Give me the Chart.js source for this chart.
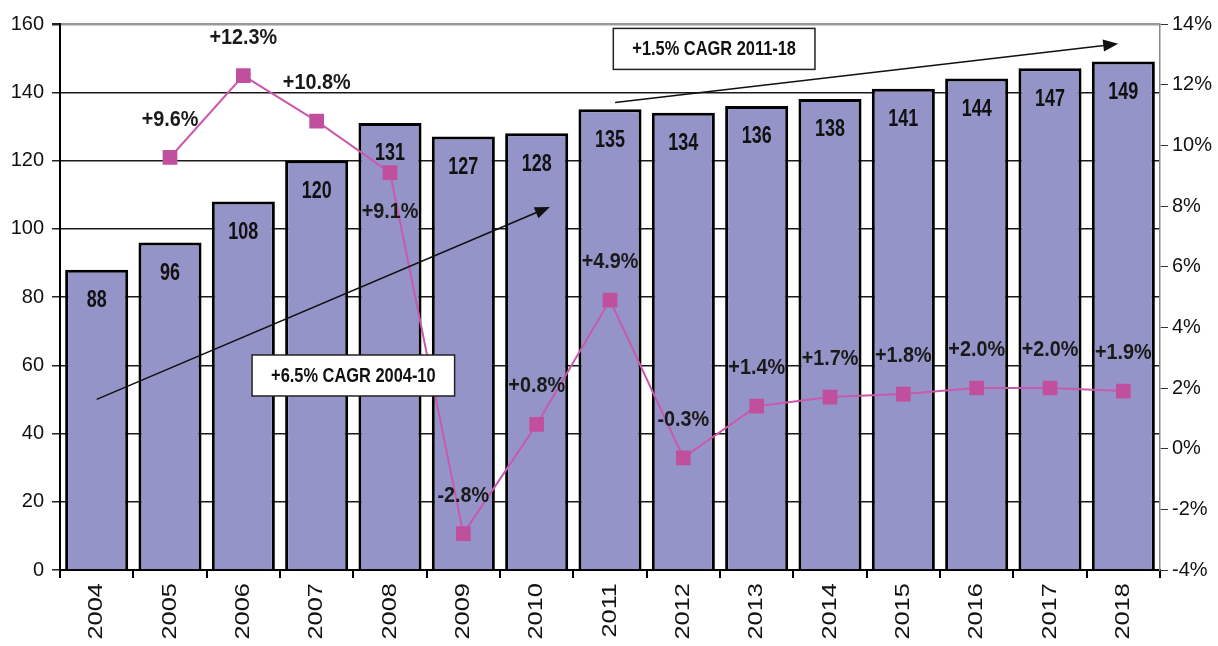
<!DOCTYPE html>
<html>
<head>
<meta charset="utf-8">
<script src="https://cdn.jsdelivr.net/npm/chart.js@4.4.1/dist/chart.umd.min.js"></script>
<style>
  html, body { margin: 0; padding: 0; background: #fff; }
  #wrap { width: 1218px; height: 646px; }
</style>
</head>
<body>
<div id="wrap"><canvas id="growthChart"></canvas></div>
<script>
// values
const years = ['2004','2005','2006','2007','2008','2009','2010','2011','2012','2013','2014','2015','2016','2017','2018'];
const volumes = [88, 96, 108, 120, 131, 127, 128, 135, 134, 136, 138, 141, 144, 147, 149];
const growth = [null, 9.6, 12.3, 10.8, 9.1, -2.8, 0.8, 4.9, -0.3, 1.4, 1.7, 1.8, 2.0, 2.0, 1.9];
const growthBelow = ['2008']; // label sits under the point for these years

// CAGR notes, placed in data units (category index, left-axis value)
const noteTexts = ['+6.5% CAGR 2004-10', '+1.5% CAGR 2011-18'];
const noteAt = [[3.5, 57], [8.42, 152.7]];
const arrowFrom = [[0, 50], [7.07, 137]];
const arrowTo = [[6.18, 106.4], [13.93, 154.2]];

const SANS = '"Liberation Sans", Arial, sans-serif';

const fmtPct = v => (v > 0 ? '+' : '') + v.toFixed(1) + '%';

// text squeezed or stretched along its own direction
function squeezed(ctx, text, x, y, sx) {
    ctx.save();
    ctx.translate(x, y);
    ctx.scale(sx, 1);
    ctx.fillText(text, 0, 0);
    ctx.restore();
}

const labelsPlugin = {
    id: 'labelsPlugin',
    afterDatasetsDraw(chart) {
        const ctx = chart.ctx;
        const xs = chart.scales.x, ys = chart.scales.y;
        ctx.save();

        // arrows
        ctx.strokeStyle = '#111'; ctx.fillStyle = '#111'; ctx.lineWidth = 1.6;
        arrowFrom.forEach((f, i) => {
            const x1 = xs.getPixelForValue(f[0]), y1 = ys.getPixelForValue(f[1]);
            const x2 = xs.getPixelForValue(arrowTo[i][0]), y2 = ys.getPixelForValue(arrowTo[i][1]);
            const a = Math.atan2(y2 - y1, x2 - x1);
            ctx.beginPath(); ctx.moveTo(x1, y1);
            ctx.lineTo(x2 - 12 * Math.cos(a), y2 - 12 * Math.sin(a)); ctx.stroke();
            ctx.beginPath();
            ctx.moveTo(x2, y2);
            ctx.lineTo(x2 - 15 * Math.cos(a) + 6 * Math.sin(a), y2 - 15 * Math.sin(a) - 6 * Math.cos(a));
            ctx.lineTo(x2 - 15 * Math.cos(a) - 6 * Math.sin(a), y2 - 15 * Math.sin(a) + 6 * Math.cos(a));
            ctx.closePath(); ctx.fill();
        });

        // bar values
        const barMeta = chart.getDatasetMeta(0);
        ctx.font = 'bold 23px ' + SANS;
        ctx.fillStyle = '#111'; ctx.textAlign = 'center'; ctx.textBaseline = 'middle';
        barMeta.data.forEach((bar, i) => {
            squeezed(ctx, String(volumes[i]), bar.x, bar.y + 31, 0.78);
        });

        // growth labels
        const lineMeta = chart.getDatasetMeta(1);
        ctx.font = 'bold 22px ' + SANS;
        ctx.fillStyle = '#1a1a1a';
        lineMeta.data.forEach((pt, i) => {
            if (growth[i] === null) return;
            const dy = growthBelow.includes(years[i]) ? 39 : -38;
            squeezed(ctx, fmtPct(growth[i]), pt.x, pt.y + dy, 0.9);
        });

        // CAGR boxes
        ctx.font = 'bold 20px ' + SANS;
        noteTexts.forEach((t, i) => {
            const cx = xs.getPixelForValue(noteAt[i][0]), cy = ys.getPixelForValue(noteAt[i][1]);
            const w = ctx.measureText(t).width * 0.82 + 38, h = 41;
            ctx.fillStyle = '#fff';
            ctx.fillRect(cx - w / 2, cy - h / 2, w, h);
            ctx.strokeStyle = '#222'; ctx.lineWidth = 1.5;
            ctx.strokeRect(cx - w / 2, cy - h / 2, w, h);
            ctx.fillStyle = '#111';
            squeezed(ctx, t, cx, cy + 1, 0.82);
        });
        ctx.restore();
    },
    afterDraw(chart) {
        // year labels, rotated to read upwards and drawn a little long
        const ctx = chart.ctx, xs = chart.scales.x;
        ctx.save();
        ctx.font = '20px ' + SANS;
        ctx.fillStyle = '#111';
        ctx.textAlign = 'right'; ctx.textBaseline = 'middle';
        years.forEach((y, i) => {
            ctx.save();
            ctx.translate(xs.getPixelForValue(i), xs.top + 13);
            ctx.rotate(-Math.PI / 2);
            ctx.scale(1.27, 1);
            ctx.fillText(y, 0, 0);
            ctx.restore();
        });
        ctx.restore();
    }
};

new Chart(document.getElementById('growthChart'), {
    type: 'bar',
    data: {
        labels: years,
        datasets: [
            { type: 'bar', data: volumes, yAxisID: 'y', order: 2,
              backgroundColor: '#9494C8', borderColor: '#000', borderWidth: 3,
              barPercentage: 0.86, categoryPercentage: 1 },
            { type: 'line', data: growth, yAxisID: 'y1', order: 1,
              borderColor: '#C95AAB', borderWidth: 2, pointStyle: 'rect', pointRadius: 9,
              pointBackgroundColor: '#C0509E', pointBorderColor: '#C0509E', spanGaps: false }
        ]
    },
    options: {
        responsive: true,
        maintainAspectRatio: false,
        animation: false,
        layout: { padding: { top: 24 } },
        plugins: { legend: { display: false }, tooltip: { enabled: false } },
        scales: {
            x: {
                grid: { drawOnChartArea: false, tickLength: 8, tickColor: '#000', lineWidth: 2 },
                border: { color: '#000', width: 2 },
                ticks: { display: false },
                afterFit: s => { s.height = 76; }
            },
            y: {
                position: 'left', min: 0, max: 160,
                ticks: { stepSize: 20, color: '#111', font: { family: SANS, size: 20 }, padding: 8 },
                grid: { color: c => c.tick.value === 160 ? '#9a9a9a' : '#1a1a1a', lineWidth: c => c.tick.value === 160 ? 2.5 : 1.5,
                        tickLength: 8, tickColor: '#222' },
                border: { color: '#000', width: 2 },
                afterFit: s => { s.width = 60; }
            },
            y1: {
                position: 'right', min: -4, max: 14,
                ticks: { stepSize: 2, color: '#111', font: { family: SANS, size: 20 }, padding: 4, callback: v => v + '%' },
                grid: { drawOnChartArea: false, tickLength: 8, tickColor: '#333' },
                border: { color: '#888', width: 1.5 },
                afterFit: s => { s.width = 58; }
            }
        }
    },
    plugins: [labelsPlugin]
});
</script>
</body>
</html>
